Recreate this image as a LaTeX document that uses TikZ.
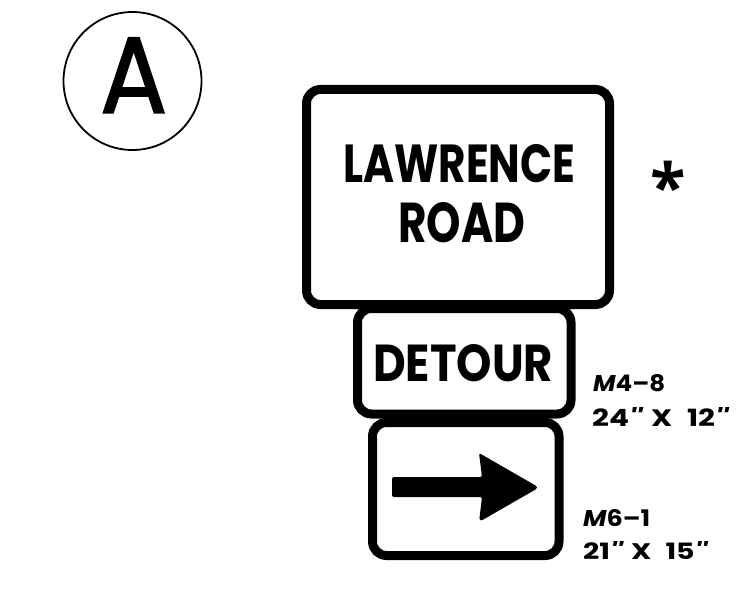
\documentclass[tikz,border=0pt]{standalone}
\usepackage{fontspec}
\usepackage{graphicx}
\newfontfamily\signfont{Poppins}[Ligatures=TeXOff]
\newfontfamily\afont{Poppins}[FakeBold=1.6]
\newfontfamily\astfont{Open Sans}
\tikzset{
  signbox/.style={draw=black, line width=9pt, rounded corners=14pt, fill=white},
  txt/.style={inner sep=0pt, anchor=south west},
}
\begin{document}
\begin{tikzpicture}[x=1pt,y=-1pt]
\useasboundingbox (0,0) rectangle (753,591);
% circle A
\draw[line width=1.8pt] (132.5,81) circle (69);
\node[txt] (a) at (100,113) {\resizebox{67pt}{75pt}{\afont A}};
% arrow sign (bottom)
\draw[signbox] (372.5,422.5) rectangle (559,555.5);
% detour sign
\draw[signbox] (357.5,308.5) rectangle (571,414);
% big sign
\draw[signbox] (306.5,89.5) rectangle (609.5,304.5);
% texts
\node[txt] (l1) at (343,183) {\resizebox{232pt}{38pt}{\signfont\bfseries LAWRENCE}};
\node[txt] (l2) at (398,243) {\resizebox{127pt}{40pt}{\signfont\bfseries ROAD}};
\node[txt] (det) at (373,382) {\resizebox{180pt}{37pt}{\signfont\bfseries DETOUR}};
% arrow
\fill[rounded corners=2pt] (392,477) -- (482,477) -- (479,453) [rounded corners=4pt] -- (539,487.5) -- (479,522) [rounded corners=2pt] -- (482,497) -- (392,497) -- cycle;
% asterisk
\node[inner sep=0pt, anchor=base] (ast) at (668,211) {\fontsize{65}{65}\selectfont\astfont\bfseries *};
% labels
\node[txt] (m48) at (593,392) {\resizebox{72pt}{17pt}{\signfont\bfseries{\itshape M}4–8}};
\node[txt] (s48) at (592,427) {\resizebox{136pt}{19pt}{\signfont\bfseries 24{\itshape''}\hspace{0.3em}X\hspace{0.5em}12{\itshape''}}};
\node[txt] (m61) at (583,527) {\resizebox{67pt}{17pt}{\signfont\bfseries{\itshape M}6–1}};
\node[txt] (s61) at (583,560) {\resizebox{124pt}{18pt}{\signfont\bfseries 21{\itshape''}\hspace{0.3em}X\hspace{0.5em}15{\itshape''}}};
\end{tikzpicture}
\end{document}
